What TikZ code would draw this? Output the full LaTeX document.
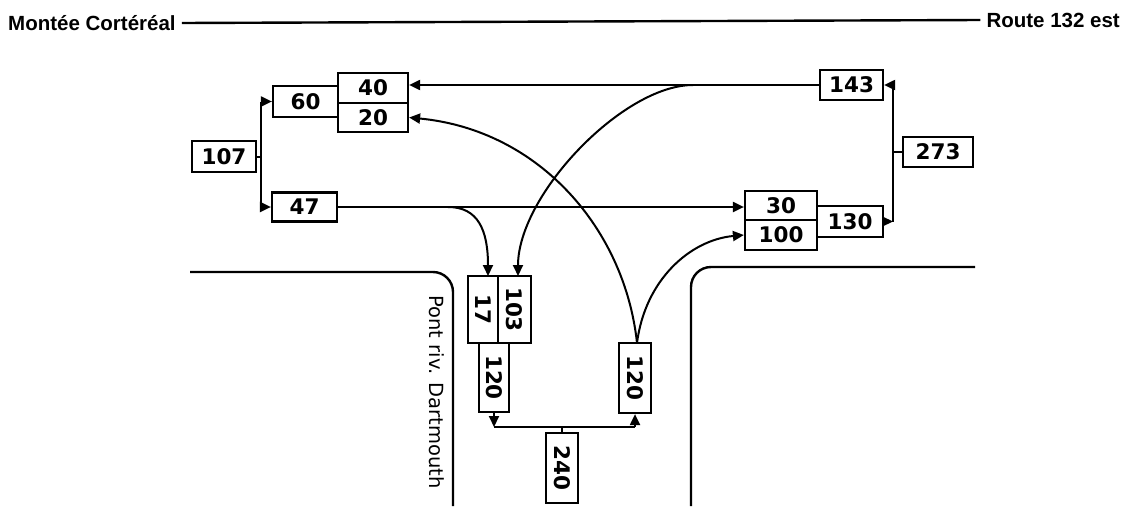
\documentclass[tikz,border=0pt]{standalone}
\usepackage{fontspec}
\setmainfont{DejaVu Sans}
\newfontfamily\titlefont{Liberation Sans}
\usepackage{graphicx}
\usetikzlibrary{arrows.meta,calc}
\tikzset{
  numbox/.style={draw, line width=2.2pt, inner sep=0pt, font=\bfseries\fontsize{21.5}{24}\selectfont},
  conn/.style={line width=2pt},
  arr/.style={conn, -{Triangle[length=11pt,width=10pt]}},
  road/.style={line width=2.4pt, rounded corners=20pt},
  titletext/.style={font=\titlefont\bfseries\fontsize{20.5}{22}\selectfont, inner sep=6pt},
  roadlabel/.style={font=\fontsize{19.5}{22}\selectfont, inner sep=0pt}
}
\begin{document}
\begin{tikzpicture}[x=1pt,y=-1pt]
\useasboundingbox (0,0) rectangle (1126,506);

% titles and top road
\node[titletext, anchor=west] (tl) at (2,23) {Montée Cortéréal};
\node[titletext, anchor=east] (tr) at (1126,20) {Route 132 est};
\draw[line width=2.4pt] (tl.east) -- (tr.west);

% roads
\draw[road] (190,272) -| (453,506);
\draw[road] (691,506) |- (975,267);
\node[roadlabel, anchor=center] (pont) at (437,392) {\rotatebox{-90}{Pont riv. Dartmouth}};

% boxes
\node[numbox, minimum width=64pt, minimum height=31pt] (n107) at (224,156.5) {107};
\node[numbox, minimum width=65pt, minimum height=31pt] (n60) at (305.5,101.5) {60};
\node[numbox, minimum width=70pt, minimum height=30pt] (n40) at (373,88) {40};
\node[numbox, minimum width=70pt, minimum height=29pt] (n20) at (373,117.5) {20};
\node[numbox, minimum width=65pt, minimum height=29pt] (n47) at (304.5,207) {47};
\node[numbox, minimum width=63pt, minimum height=30pt] (n143) at (851.5,85) {143};
\node[numbox, minimum width=70pt, minimum height=30pt] (n273) at (938,152) {273};
\node[numbox, minimum width=72pt, minimum height=29pt] (n30) at (781,205.5) {30};
\node[numbox, minimum width=72pt, minimum height=30pt] (n100) at (781,235) {100};
\node[numbox, minimum width=66pt, minimum height=31pt] (n130) at (850,221.5) {130};
\node[numbox, minimum width=30pt, minimum height=67pt] (n17) at (483,309.5) {\rotatebox{-90}{17}};
\node[numbox, minimum width=33pt, minimum height=67pt] (n103) at (514.5,309.5) {\rotatebox{-90}{103}};
\node[numbox, minimum width=30pt, minimum height=69pt] (n120a) at (494,377.5) {\rotatebox{-90}{120}};
\node[numbox, minimum width=32pt, minimum height=70pt] (n120b) at (635,378) {\rotatebox{-90}{120}};
\node[numbox, minimum width=32pt, minimum height=70pt] (n240) at (562,468) {\rotatebox{-90}{240}};

% left split of 107
\coordinate (lt) at (261,101.5);
\coordinate (lm) at (261,156.5);
\coordinate (lb) at (261,207);
\draw[conn] (lt) -- (lb);
\draw[conn] (n107.east) -- (lm);
\draw[arr] (lt) -- (n60.west);
\draw[arr] (lb) -- (n47.west);

% right split of 273
\coordinate (rt) at (893,85);
\coordinate (rm) at (893,152);
\coordinate (rb) at (893,221.5);
\draw[conn] (rt) -- (rb);
\draw[conn] (n273.west) -- (rm);
\draw[arr] (rt) -- (n143.east);
\draw[arr] (n130.east) -- (rb);

% bottom split of 240
\coordinate (bl) at (494,427);
\coordinate (bm) at (562,427);
\coordinate (br) at (635,427);
\draw[conn] (bl) -- (br);
\draw[conn] (bm) -- (n240.north);
\draw[arr] (n120a.south) -- (bl);
\draw[arr] (br) -- (n120b.south);

% 47 -> 30 and 47 -> 17
\draw[arr] (n47.east) -- (n47.east -| n30.west);
\coordinate (s47) at (448,207);
\coordinate (e17) at (488,276);
\draw[arr] (s47) .. controls (478,207) and (488,230) .. (e17);

% 143 -> 40 and 143 -> 103
\draw[arr] (n143.west) -- (n143.west -| n40.east);
\coordinate (s143) at (693,85);
\coordinate (e103) at (518,276);
\draw[arr] (s143) .. controls (623,85) and (518,195) .. (e103);

% 120 -> 20 and 120 -> 100
\coordinate (s120) at (637,343);
\draw[arr] (s120) .. controls (625,230) and (540,130) .. (n20.east);
\draw[arr] (s120) .. controls (645,280) and (690,240) .. (n100.west);
\end{tikzpicture}
\end{document}
